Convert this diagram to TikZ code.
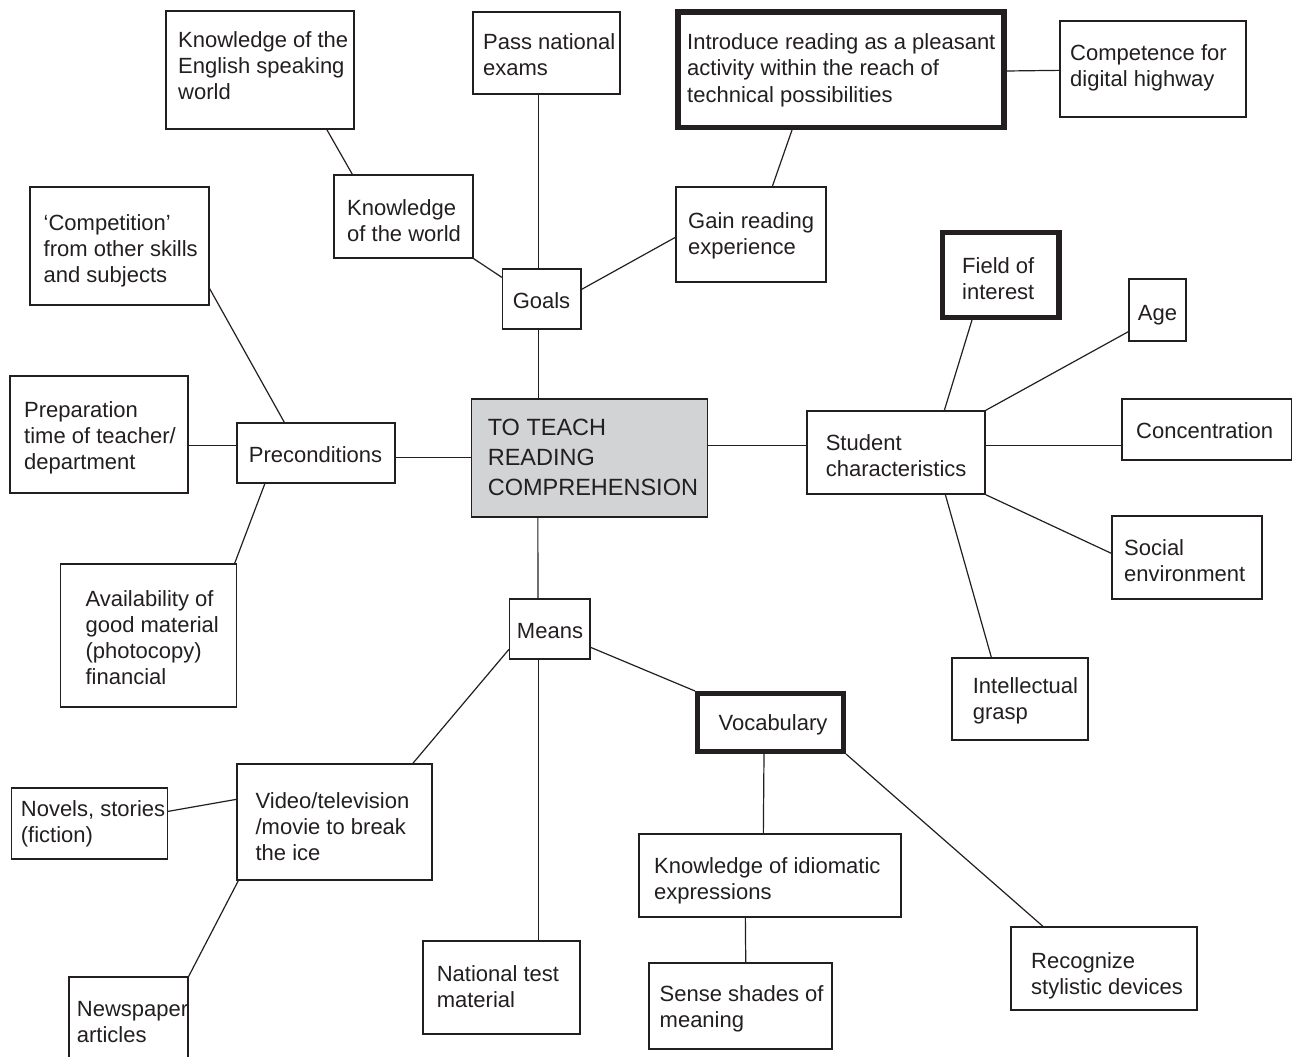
\documentclass[tikz,border=0pt]{standalone}
\usepackage{fontspec}
\setmainfont{Liberation Sans}
\usetikzlibrary{calc}
\definecolor{linec}{RGB}{35,31,32}
\definecolor{hubfill}{RGB}{209,211,212}
\newcommand{\ml}[1]{\begin{tabular}[t]{@{}l@{}}#1\end{tabular}}
\newcommand{\mkbox}[6][bx]{\node[#1, minimum width={#4-#2}, minimum height={#5-#3}] (#6) at ({(#2+#4)/2},{(#3+#5)/2}) {};}
\begin{document}
\begin{tikzpicture}[x=1pt,y=-1pt,
  bx/.style={draw=linec,line width=1.3pt,fill=white,inner sep=0pt},
  thickbx/.style={bx,line width=5.4pt},
  hubbox/.style={bx,fill=hubfill},
  tx/.style={inner sep=0pt,font=\fontsize{22}{26}\selectfont,text=linec},
  hubtx/.style={inner sep=0pt,font=\fontsize{23.5}{30}\selectfont,text=linec},
  conn/.style={draw=linec,line width=1.2pt}]
\useasboundingbox (0,0) rectangle (1293,1057);
\clip (0,0) rectangle (1293,1057);
\fill[white] (0,0) rectangle (1293,1057);

% boxes
\mkbox{166}{11}{354}{129}{ken}
\mkbox{473}{12}{620}{94}{pass}
\mkbox[thickbx]{678.1}{12}{1003.8}{127.3}{intro}
\mkbox{1060}{21}{1246}{117}{digi}
\mkbox{334}{175}{473}{258}{kwo}
\mkbox{676}{187}{826}{282}{gain}
\mkbox{502.5}{269}{581}{329}{goals}
\mkbox{30}{187}{209}{305}{compet}
\mkbox[thickbx]{942.7}{232.7}{1058.8}{317.3}{field}
\mkbox{1129}{279}{1186}{341}{age}
\mkbox{10}{376}{188}{493}{prep}
\mkbox{237}{423}{395}{483}{prec}
\mkbox[hubbox]{471.5}{399}{707.5}{517}{hub}
\mkbox{807}{411}{985}{494}{stud}
\mkbox{1122}{399}{1291.5}{460}{conc}
\mkbox{1112}{516}{1262}{599}{soc}
\mkbox{60.6}{564}{236.5}{707}{avail}
\mkbox{509.6}{599}{590}{659}{means}
\mkbox{952}{658}{1088}{740}{intel}
\mkbox[thickbx]{697.7}{693.7}{843.3}{751.3}{vocab}
\mkbox{237}{764}{432}{880}{video}
\mkbox{11.6}{788}{167.5}{859}{novels}
\mkbox{639}{834}{901}{917}{idiom}
\mkbox{423}{941}{580}{1034}{natl}
\mkbox{649}{963}{832}{1049}{sense}
\mkbox{1011}{927}{1197}{1010}{recog}
\mkbox{69}{977}{188}{1075}{news}

% texts
\node[tx,anchor=base west] (ken-t) at (178,48) {\ml{Knowledge of the\\English speaking\\world}};
\node[tx,anchor=base west] (pass-t) at (483,50) {\ml{Pass national\\exams}};
\node[tx,anchor=base west] (intro-t) at (687,50) {\ml{Introduce reading as a pleasant\\activity within the reach of\\technical possibilities}};
\node[tx,anchor=base west] (digi-t) at (1070,61) {\ml{Competence for\\digital highway}};
\node[tx,anchor=base west] (kwo-t) at (347,215) {\ml{Knowledge\\of the world}};
\node[tx,anchor=base west] (gain-t) at (688,228) {\ml{Gain reading\\experience}};
\node[tx,anchor=base] (goals-t) at (541.5,308) {Goals};
\node[tx,anchor=base west] (compet-t) at (43.5,230) {\ml{‘Competition’\\from other skills\\and subjects}};
\node[tx,anchor=base west] (field-t) at (962,273) {\ml{Field of\\interest}};
\node[tx,anchor=base] (age-t) at (1157.5,320) {Age};
\node[tx,anchor=base west] (prep-t) at (24,417) {\ml{Preparation\\time of teacher/\\department}};
\node[tx,anchor=base] (prec-t) at (315.5,462) {Preconditions};
\node[hubtx,anchor=base west] (hub-t) at (487.6,435) {\ml{TO TEACH\\READING\\COMPREHENSION}};
\node[tx,anchor=base west] (stud-t) at (825.6,450) {\ml{Student\\characteristics}};
\node[tx,anchor=base west] (conc-t) at (1136,438) {Concentration};
\node[tx,anchor=base west] (soc-t) at (1124,555) {\ml{Social\\environment}};
\node[tx,anchor=base west] (avail-t) at (85.4,606) {\ml{Availability of\\good material\\(photocopy)\\financial}};
\node[tx,anchor=base] (means-t) at (550,638) {Means};
\node[tx,anchor=base west] (intel-t) at (972.6,693) {\ml{Intellectual\\grasp}};
\node[tx,anchor=base] (vocab-t) at (773,730) {Vocabulary};
\node[tx,anchor=base west] (video-t) at (255.4,808) {\ml{Video/television\\/movie to break\\the ice}};
\node[tx,anchor=base west] (novels-t) at (20.7,816) {\ml{Novels, stories\\(fiction)}};
\node[tx,anchor=base west] (idiom-t) at (654,873) {\ml{Knowledge of idiomatic\\expressions}};
\node[tx,anchor=base west] (natl-t) at (436.6,981) {\ml{National test\\material}};
\node[tx,anchor=base west] (sense-t) at (659.5,1001) {\ml{Sense shades of\\meaning}};
\node[tx,anchor=base west] (recog-t) at (1031,968) {\ml{Recognize\\stylistic devices}};
\node[tx,anchor=base west] (news-t) at (76.7,1016) {\ml{Newspaper\\articles}};

% connectors
\draw[conn] ($(ken.south west)+(161.5,0)$) -- ($(kwo.north west)+(19,0)$);
\draw[conn] ($(pass.south west)+(66,0)$) -- ($(goals.north west)+(36.5,0)$);
\draw[conn] (kwo.south east) -- ($(goals.north west)+(0,9)$);
\draw[conn] ($(goals.north east)+(0,21)$) -- ($(gain.north west)+(0,51)$);
\draw[conn] ($(intro.south west)+(116.6,0)$) -- ($(gain.north west)+(97,0)$);
\draw[conn] ($(intro.north east)+(0,61.7)$) -- ($(digi.north west)+(0,50)$);
\draw[conn] ($(goals.south west)+(36.5,0)$) -- ($(hub.north west)+(67.5,0)$);
\draw[conn] ($(compet.south east)+(0,-17)$) -- ($(prec.north west)+(48,0)$);
\draw[conn] ($(prep.north east)+(0,70)$) -- ($(prec.north west)+(0,23)$);
\draw[conn] ($(prec.north east)+(0,35)$) -- ($(hub.north west)+(0,59)$);
\draw[conn] ($(prec.south west)+(28.5,0)$) -- ($(avail.north east)+(-2.5,0)$);
\draw[conn] ($(hub.north east)+(0,47)$) -- ($(stud.north west)+(0,35)$);
\draw[conn] ($(hub.south west)+(67,0)$) -- ($(means.north west)+(29,0)$);
\draw[conn] ($(stud.north west)+(138,0)$) -- ($(field.south west)+(32,0)$);
\draw[conn] (stud.north east) -- ($(age.south west)+(0,-10)$);
\draw[conn] ($(stud.north east)+(0,35)$) -- ($(conc.north west)+(0,47)$);
\draw[conn] (stud.south east) -- ($(soc.north west)+(0,38)$);
\draw[conn] ($(stud.south west)+(139,0)$) -- ($(intel.north west)+(40,0)$);
\draw[conn] ($(means.north west)+(0,51)$) -- ($(video.north west)+(176.5,0)$);
\draw[conn] ($(means.south west)+(29.4,0)$) -- ($(natl.north west)+(116,0)$);
\draw[conn] ($(means.north east)+(0,49)$) -- (vocab.north west);
\draw[conn] ($(novels.north east)+(0,24)$) -- ($(video.north west)+(0,36)$);
\draw[conn] ($(video.south west)+(2,0)$) -- (news.north east);
\draw[conn] ($(vocab.south west)+(69,0)$) -- ($(idiom.north west)+(125,0)$);
\draw[conn] (vocab.south east) -- ($(recog.north west)+(32.6,0)$);
\draw[conn] ($(idiom.south west)+(107,0)$) -- ($(sense.north west)+(97.4,0)$);
\end{tikzpicture}
\end{document}
